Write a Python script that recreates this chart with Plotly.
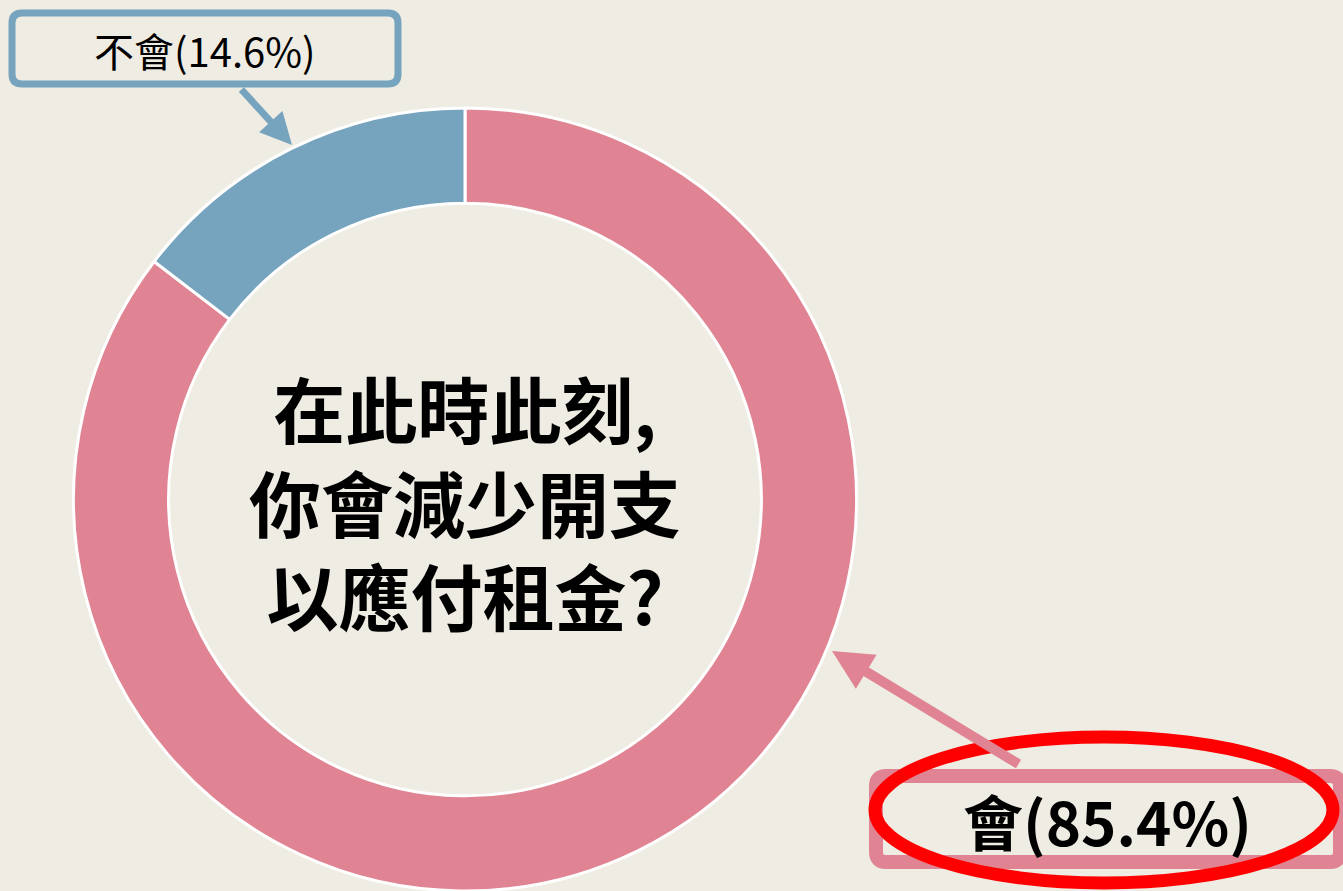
import plotly.graph_objects as go

# Data
labels = ["會", "不會"]
values = [85.4, 14.6]
colors = ["#E08494", "#76A3BD"]
question_lines = ["在此時此刻,", "你會減少開支", "以應付租金?"]
label_no = "不會(14.6%)"
label_yes = "會(85.4%)"

W, H = 1343, 891
BG = "#EFECE3"
FONT = "Noto Sans CJK TC"

fig = go.Figure()

fig.add_trace(go.Pie(
    labels=labels, values=values, sort=False, direction="clockwise", rotation=0,
    marker=dict(colors=colors, line=dict(color="white", width=3)),
    hole=0.757, textinfo="none", hoverinfo="label+percent", showlegend=False,
    domain=dict(x=[72 / W, 858 / W], y=[0, 1 - 108 / H]),
))

# invisible scatter to establish a pixel-like coordinate system
fig.add_trace(go.Scatter(x=[0, W], y=[0, H], mode="markers",
                         marker=dict(opacity=0), hoverinfo="skip", showlegend=False))


def rrect(x0, y0, x1, y1, r):
    return (f"M {x0+r},{y0} L {x1-r},{y0} Q {x1},{y0} {x1},{y0+r} "
            f"L {x1},{y1-r} Q {x1},{y1} {x1-r},{y1} L {x0+r},{y1} "
            f"Q {x0},{y1} {x0},{y1-r} L {x0},{y0+r} Q {x0},{y0} {x0+r},{y0} Z")


shapes = [
    dict(type="path", path=rrect(12, 13, 398, 84, 10), xref="x", yref="y",
         line=dict(color="#76A3BD", width=7), fillcolor=BG),
    dict(type="path", path=rrect(876, 776, 1340, 862, 10), xref="x", yref="y",
         line=dict(color="#E08494", width=14), fillcolor="rgba(0,0,0,0)"),
    dict(type="circle", x0=875, x1=1333, y0=737, y1=883, xref="x", yref="y",
         line=dict(color="#FF0000", width=13)),
]

annotations = [
    dict(x=292, y=145, ax=240, ay=88, xref="x", yref="y", axref="x", ayref="y",
         text="", showarrow=True, arrowhead=2, arrowsize=0.9, arrowwidth=7,
         arrowcolor="#76A3BD", standoff=0),
    dict(x=832, y=651, ax=1020, ay=765, xref="x", yref="y", axref="x", ayref="y",
         text="", showarrow=True, arrowhead=2, arrowsize=0.8, arrowwidth=10,
         arrowcolor="#E08494", standoff=0),
    dict(x=205, y=50, xref="x", yref="y", text=label_no, showarrow=False,
         font=dict(family=FONT, size=40, color="black")),
    dict(x=1107, y=819, xref="x", yref="y", text=f"<b>{label_yes}</b>", showarrow=False,
         font=dict(family=FONT, size=60, color="black")),
    dict(x=465, y=500, xref="x", yref="y",
         text="<b>" + "<br>".join(question_lines) + "</b>", showarrow=False,
         font=dict(family=FONT, size=72, color="black")),
]

fig.update_layout(
    width=W, height=H, autosize=False,
    margin=dict(l=0, r=0, t=0, b=0),
    paper_bgcolor=BG, plot_bgcolor="rgba(0,0,0,0)",
    xaxis=dict(range=[0, W], visible=False, fixedrange=True),
    yaxis=dict(range=[H, 0], visible=False, fixedrange=True),
    shapes=shapes, annotations=annotations,
)

fig.write_html("out.html", config={"displayModeBar": False},
               post_script="document.body.style.margin='0';document.body.style.overflow='hidden';")
